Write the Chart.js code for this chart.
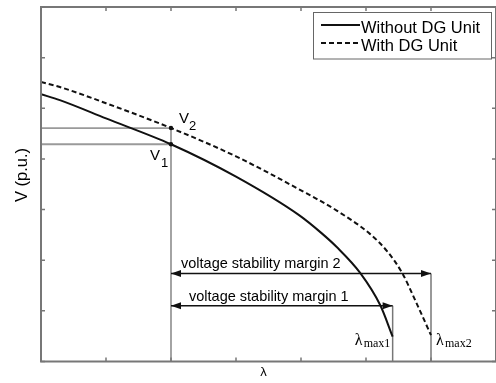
<!DOCTYPE html>
<html>
<head>
<meta charset="utf-8">
<script src="https://cdn.jsdelivr.net/npm/chart.js@4.4.1/dist/chart.umd.min.js"></script>
<style>
  html, body { margin: 0; padding: 0; background: #fff; overflow: hidden; }
  #wrap { width: 500px; height: 383px; }
</style>
</head>
<body>
<div id="wrap"><canvas id="pv" width="500" height="383"></canvas></div>
<script>
// P-V curves: loading parameter (lambda) vs bus voltage (no units on axes)
const lambdaNoDG = [0, 0.29, 1.0, 2.0, 3.0, 3.97, 4.32, 4.55, 4.91, 5.22, 5.41]
const voltNoDG   = [5.28, 5.16, 4.80, 4.29, 3.65, 2.89, 2.53, 2.26, 1.75, 1.11, 0.49]
const lambdaDG   = [0, 0.29, 1.0, 2.0, 3.0, 3.97, 4.55, 5.06, 5.33, 5.56, 5.76, 6.0]
const voltDG     = [5.52, 5.42, 5.10, 4.61, 4.05, 3.40, 2.98, 2.52, 2.17, 1.74, 1.20, 0.52]

// operating point, nose points and margin arrows
const lambdaOp = 2.0
const v1 = 4.29
const v2 = 4.61
const lambdaMax1 = 5.41
const lambdaMax2 = 6.0
const marginLevel1 = 1.10
const marginLevel2 = 1.74

// unlabelled tick marks
const xTicks = [0, 1, 2, 3, 4, 5, 6, 7]
const yTicks = [0, 1, 2, 3, 4, 5, 6, 7]

const legendLabels = ['Without DG Unit', 'With DG Unit']
const marginLabels = ['voltage stability margin 1', 'voltage stability margin 2']

const SANS = '"Liberation Sans", Arial, sans-serif'
const SERIF = '"Liberation Serif", "Times New Roman", serif'
const GUIDE = '#9a9a9a'
const AXIS = '#777777'

const pts = (xs, ys) => xs.map((x, i) => ({ x, y: ys[i] }))

/**
 * Draws the frame, inward ticks, axis titles, text labels, arrow heads and legend
 */
const decorPlugin = {
  id: 'decor',
  afterDatasetsDraw(chart) {
    const ctx = chart.ctx
    const a = chart.chartArea
    const xs = chart.scales.x
    const ys = chart.scales.y
    const px = v => xs.getPixelForValue(v)
    const py = v => ys.getPixelForValue(v)

    ctx.save()

    // frame + ticks
    ctx.strokeStyle = AXIS
    ctx.lineWidth = 2
    ctx.strokeRect(a.left, a.top, a.right - a.left, a.bottom - a.top)
    ctx.lineWidth = 1.5
    ctx.beginPath()
    xTicks.forEach(t => {
      const x = px(t)
      ctx.moveTo(x, a.bottom); ctx.lineTo(x, a.bottom - 4)
      ctx.moveTo(x, a.top); ctx.lineTo(x, a.top + 4)
    })
    yTicks.forEach(t => {
      const y = py(t)
      ctx.moveTo(a.left, y); ctx.lineTo(a.left + 4, y)
      ctx.moveTo(a.right, y); ctx.lineTo(a.right - 4, y)
    })
    ctx.stroke()

    // arrow heads on the margin datasets
    ctx.fillStyle = '#111'
    chart.data.datasets.forEach((ds, i) => {
      if (!ds.arrows) return
      const d = chart.getDatasetMeta(i).data
      arrowHead(ctx, d[0].x, d[0].y, -1)
      arrowHead(ctx, d[1].x, d[1].y, 1)
    })

    // axis titles
    ctx.fillStyle = '#000'
    ctx.textBaseline = 'alphabetic'
    ctx.save()
    ctx.translate(27, 175)
    ctx.rotate(-Math.PI / 2)
    ctx.textAlign = 'center'
    ctx.font = '16.5px ' + SANS
    ctx.fillText('V (p.u.)', 0, 0)
    ctx.restore()
    ctx.textAlign = 'center'
    ctx.font = '13px ' + SANS
    ctx.fillText('λ', 263.5, 376)

    // V1 / V2 labels
    ctx.textAlign = 'left'
    let x = px(lambdaOp), y = py(v2)
    ctx.font = '15px ' + SANS
    ctx.fillText('V', x + 8, y - 5.5)
    ctx.font = '13px ' + SANS
    ctx.fillText('2', x + 18, y + 1.5)
    y = py(v1)
    ctx.font = '15px ' + SANS
    ctx.fillText('V', x - 21, y + 16)
    ctx.font = '13px ' + SANS
    ctx.fillText('1', x - 10, y + 22.5)

    // margin captions
    ctx.font = '14.5px ' + SANS
    ctx.fillText(marginLabels[1], x + 10, py(marginLevel2) - 5)
    ctx.fillText(marginLabels[0], x + 18, py(marginLevel1) - 4.5)

    // lambda max labels
    const yb = py(0)
    drawLambdaMax(ctx, px(lambdaMax1) - 38, yb, 'max1')
    drawLambdaMax(ctx, px(lambdaMax2) + 5, yb, 'max2')

    // legend box
    ctx.strokeStyle = '#666'
    ctx.lineWidth = 1
    ctx.strokeRect(313.5, 12.5, 178, 46.5)
    const rows = [25, 43]
    chart.data.datasets.slice(0, 2).forEach((ds, i) => {
      ctx.strokeStyle = ds.borderColor
      ctx.lineWidth = 2
      ctx.setLineDash(ds.borderDash || [])
      ctx.beginPath()
      ctx.moveTo(321, rows[i]); ctx.lineTo(360, rows[i])
      ctx.stroke()
      ctx.setLineDash([])
      ctx.fillStyle = '#000'
      ctx.font = '16.5px ' + SANS
      ctx.fillText(legendLabels[i], 361, rows[i] + 7.5)
    })

    ctx.restore()
  }
}

function arrowHead(ctx, x, y, dir) {
  const len = 10, half = 3.5
  ctx.beginPath()
  ctx.moveTo(x, y)
  ctx.lineTo(x - dir * len, y - half)
  ctx.lineTo(x - dir * len, y + half)
  ctx.closePath()
  ctx.fill()
}

function drawLambdaMax(ctx, x, yBottom, sub) {
  ctx.fillStyle = '#000'
  ctx.textAlign = 'left'
  ctx.font = '16px ' + SERIF
  ctx.fillText('λ', x, yBottom - 16.5)
  ctx.font = '12px ' + SERIF
  ctx.fillText(sub, x + 9, yBottom - 14.5)
}

const line = (data, color, width, extra = {}) => ({
  data,
  borderColor: color,
  borderWidth: width,
  pointRadius: 0,
  tension: 0,
  ...extra,
})

new Chart(document.getElementById('pv'), {
  type: 'line',
  data: {
    datasets: [
      line(pts(lambdaNoDG, voltNoDG), '#111', 2, { label: legendLabels[0], cubicInterpolationMode: 'monotone' }),
      line(pts(lambdaDG, voltDG), '#111', 2, { label: legendLabels[1], borderDash: [5, 3], cubicInterpolationMode: 'monotone' }),
      // operating point markers
      {
        data: [{ x: lambdaOp, y: v1 }, { x: lambdaOp, y: v2 }],
        showLine: false,
        pointRadius: 2.2,
        pointBackgroundColor: '#111',
        pointBorderWidth: 0,
      },
      // margin arrows (heads added by the plugin)
      line([{ x: lambdaOp, y: marginLevel2 }, { x: lambdaMax2, y: marginLevel2 }], '#111', 1.5, { arrows: true }),
      line([{ x: lambdaOp, y: marginLevel1 }, { x: lambdaMax1, y: marginLevel1 }], '#111', 1.5, { arrows: true }),
      // gray guide lines
      line([{ x: lambdaMax2, y: marginLevel2 }, { x: lambdaMax2, y: 0 }], '#777', 1.5),
      line([{ x: lambdaMax1, y: marginLevel1 }, { x: lambdaMax1, y: 0 }], '#777', 1.5),
      line([{ x: 0, y: v2 }, { x: lambdaOp, y: v2 }, { x: lambdaOp, y: 0 }], GUIDE, 1.8),
      line([{ x: 0, y: v1 }, { x: lambdaOp, y: v1 }], GUIDE, 1.8),
    ],
  },
  options: {
    responsive: false,
    animation: false,
    devicePixelRatio: 1,
    layout: { padding: { left: 41, top: 7, right: 2, bottom: 21.5 } },
    scales: {
      x: { type: 'linear', min: 0, max: 7, display: false },
      y: { type: 'linear', min: 0, max: 7, display: false },
    },
    plugins: {
      legend: { display: false },
      tooltip: { enabled: false },
    },
  },
  plugins: [decorPlugin],
})
</script>
</body>
</html>
